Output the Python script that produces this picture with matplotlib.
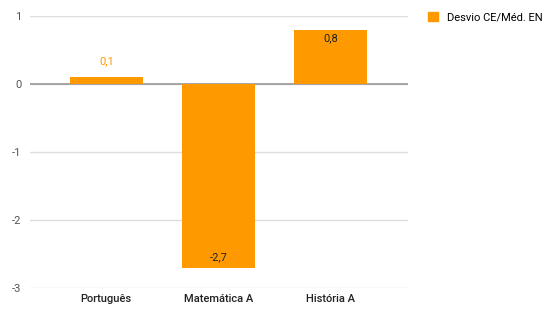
import matplotlib
matplotlib.use('Agg')
import matplotlib.pyplot as plt
from matplotlib.patches import Patch

plt.rcParams['font.family'] = ['Roboto', 'DejaVu Sans']

# data
subjects = ['Português', 'Matemática A', 'História A']
desvio = [0.1, -2.7, 0.8]
labels = ['0,1', '-2,7', '0,8']
series_name = 'Desvio CE/Méd. EN'

orange = '#ff9900'

fig = plt.figure(figsize=(5.45, 3.22), dpi=100)
ax = fig.add_axes([30 / 545, 1 - 288 / 322, 378 / 545, 272 / 322])

x = range(len(subjects))
bars = ax.bar(x, desvio, width=0.65, color=orange, zorder=3)

ax.set_ylim(-3, 1)
ax.set_xlim(-0.68, 2.69)
ax.set_yticks([-3, -2, -1, 0, 1])
ax.set_yticklabels(['-3', '-2', '-1', '0', '1'])
ax.set_xticks(list(x))
ax.set_xticklabels(subjects, fontsize=8, color='#222222', fontweight='medium')

ax.grid(axis='y', color='#dddddd', linewidth=1, zorder=0)
ax.axhline(0, color='#999999', linewidth=1.2, zorder=2)
for s in ax.spines.values():
    s.set_visible(False)
ax.tick_params(axis='both', length=0)
ax.tick_params(axis='y', labelsize=8, labelcolor='#555555', pad=6)
ax.tick_params(axis='x', pad=4)

# value labels
for i, (v, lab) in enumerate(zip(desvio, labels)):
    if abs(v) < 0.3:
        ax.text(i, v + 0.24, lab, ha='center', va='center', fontsize=8, color=orange)
    elif v > 0:
        ax.text(i, v - 0.13, lab, ha='center', va='center', fontsize=8, color='#222222', zorder=4)
    else:
        ax.text(i, v + 0.15, lab, ha='center', va='center', fontsize=8, color='#222222', zorder=4)

fig.legend(handles=[Patch(color=orange)], labels=[series_name],
           loc='upper left', bbox_to_anchor=(418 / 545, 1 - 2 / 322),
           frameon=False, fontsize=8, handlelength=0.9, handleheight=0.9,
           handletextpad=0.8)

fig.savefig('out.png', dpi=100)
